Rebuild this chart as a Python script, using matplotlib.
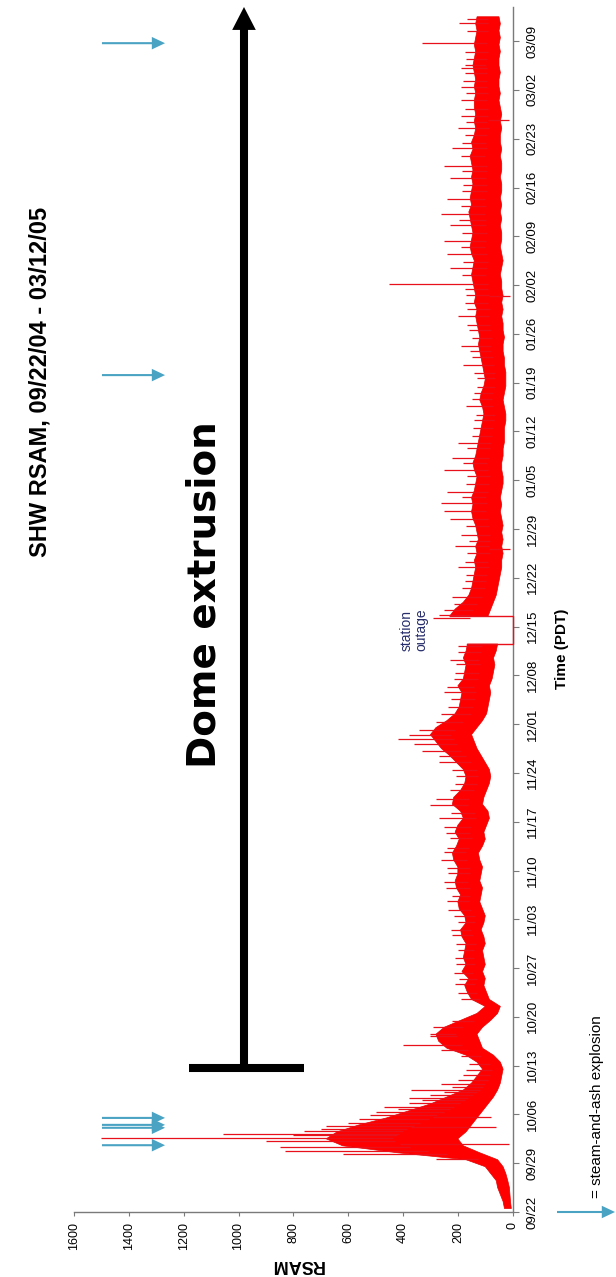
import numpy as np
import pandas as pd
import matplotlib
matplotlib.use('Agg')
import matplotlib.pyplot as plt
import matplotlib.dates as mdates
from matplotlib.patches import FancyArrowPatch

plt.rcParams['font.family'] = ['Liberation Sans', 'DejaVu Sans']

W, H = 616, 1277

start = pd.Timestamp('2004-09-22')

# daily RSAM envelope (low / high), one row per week from 09/22/04
rsam_low = [
    5, 8, 10, 12, 18, 25, 35,
    55, 120, 180, 200, 170, 150, 130,
    110, 90, 70, 55, 45, 40, 35,
    45, 70, 110, 120, 130, 110, 80,
    55, 45, 85, 95, 105, 100, 110,
    100, 105, 110, 100, 105, 115, 105,
    100, 110, 120, 115, 110, 120, 115,
    110, 120, 125, 110, 100, 105, 95,
    85, 90, 110, 105, 95, 85, 80,
    85, 100, 115, 130, 140, 150, 130,
    110, 95, 90, 85, 80, 85, 75,
    70, 65, 70, 60, 55, np.nan, np.nan,
    np.nan, 90, 80, 70, 60, 55, 50,
    45, 40, 40, 35, 40, 35, 40,
    35, 40, 45, 40, 45, 40, 35,
    35, 40, 40, 35, 35, 30, 30,
    30, 25, 25, 30, 35, 30, 25,
    25, 25, 30, 30, 35, 35, 30,
    35, 35, 40, 35, 40, 35, 40,
    40, 45, 40, 35, 40, 45, 40,
    40, 45, 40, 45, 40, 45, 40,
    40, 45, 40, 40, 45, 40, 45,
    45, 40, 45, 40, 45, 50, 45,
    50, 50, 45, 50, 50, 45, 50,
    45, 50, 45, 50,
]
rsam_high = [
    30, 35, 45, 55, 60, 80, 100,
    170, 420, 620, 680, 640, 560, 460,
    380, 300, 240, 180, 150, 130, 110,
    130, 170, 240, 270, 280, 250, 190,
    130, 100, 150, 165, 175, 160, 185,
    170, 180, 175, 170, 185, 190, 170,
    175, 195, 200, 190, 205, 210, 200,
    200, 215, 220, 205, 195, 210, 200,
    180, 190, 220, 215, 190, 175, 170,
    180, 205, 230, 260, 280, 300, 280,
    240, 210, 195, 190, 185, 200, 180,
    175, 170, 180, 170, 165, np.nan, np.nan,
    np.nan, 230, 210, 180, 160, 150, 145,
    140, 135, 140, 130, 135, 125, 130,
    135, 145, 150, 145, 150, 140, 135,
    130, 140, 145, 135, 130, 125, 120,
    115, 110, 105, 110, 120, 115, 105,
    100, 105, 110, 115, 120, 125, 120,
    125, 130, 135, 130, 140, 135, 140,
    145, 150, 145, 140, 150, 155, 150,
    145, 150, 155, 160, 150, 155, 150,
    145, 150, 145, 150, 155, 145, 150,
    140, 135, 140, 135, 140, 140, 135,
    140, 135, 140, 145, 140, 135, 140,
    135, 130, 135, 130,
]

# short bursts: (days after 09/22/04, RSAM)
spikes = [
    (7.6, 280), (8.3, 620), (8.8, 830), (9.3, 850), (9.75, 15), (10.2, 900),
    (10.6, 1500), (11.0, 800), (11.2, 1055), (11.6, 760), (11.9, 700),
    (12.2, 60), (12.4, 680), (12.8, 600), (13.3, 560), (13.6, 80),
    (13.9, 520), (14.4, 500), (14.8, 420), (15.1, 470), (15.6, 380),
    (16.0, 330), (16.3, 380), (16.8, 300), (17.2, 250), (17.5, 370),
    (18.0, 220), (18.4, 260), (19.0, 200), (19.6, 180), (20.4, 170),
    (21.2, 160), (24.0, 400), (25.5, 300), (26.5, 290),
    (22.4, 190), (23.3, 260), (25.2, 300), (27.4, 220), (30.6, 190),
    (31.4, 200), (32.7, 210), (33.5, 195), (34.3, 215), (35.6, 205),
    (36.4, 210), (37.6, 200), (38.5, 205), (39.7, 220), (40.4, 225),
    (41.6, 200), (42.5, 215), (43.4, 235), (44.6, 240), (45.3, 220),
    (46.5, 245), (47.4, 250), (48.6, 235), (49.4, 240), (50.5, 260),
    (51.6, 250), (52.3, 240), (53.7, 230), (54.4, 245), (55.2, 250),
    (56.6, 270), (57.3, 225), (58.4, 300), (59.3, 280), (60.5, 230),
    (61.4, 210), (62.6, 205), (63.4, 220), (64.5, 270), (65.4, 270),
    (66.2, 330), (67.1, 360), (67.8, 420), (68.5, 380), (69.2, 340),
    (70.3, 280), (71.5, 260), (72.4, 235), (73.6, 225), (74.6, 250),
    (75.3, 240), (76.5, 215), (77.4, 210), (78.6, 205), (79.2, 230),
    (80.4, 200), (81.2, 200),
    (85.2, 290), (85.7, 270), (86.4, 250), (87.3, 215), (88.3, 220),
    (89.5, 185), (90.6, 175), (91.4, 170), (92.5, 200), (93.3, 175),
    (94.6, 165), (95.2, 10), (95.6, 210), (96.3, 160), (97.2, 190),
    (98.5, 170), (99.4, 230), (100.6, 250), (101.8, 260), (102.6, 185),
    (103.3, 240), (104.4, 170), (105.6, 165), (106.5, 250), (107.4, 180),
    (108.2, 220), (109.6, 165), (110.4, 200), (111.3, 150), (112.5, 145),
    (113.6, 140), (114.4, 135), (115.6, 170), (116.7, 150), (117.5, 140),
    (118.4, 130), (119.6, 130), (120.4, 140), (121.5, 180), (122.7, 150),
    (123.5, 155), (124.3, 190), (125.4, 150), (126.6, 160), (127.3, 165),
    (128.6, 200), (129.5, 165), (130.4, 175), (131.5, 10), (131.6, 170),
    (132.4, 175), (133.1, 450), (134.5, 185), (135.4, 230), (136.3, 180),
    (137.5, 240), (138.4, 190), (139.3, 250), (140.5, 185), (141.6, 230),
    (142.4, 195), (143.2, 260), (144.3, 190), (145.4, 240), (146.5, 185),
    (147.4, 180), (148.3, 230), (149.3, 185), (150.1, 250), (151.5, 190),
    (152.6, 220), (153.4, 185), (154.6, 175), (155.5, 200), (156.4, 170),
    (156.7, 15), (157.2, 190), (158.3, 175), (159.6, 190), (160.5, 170),
    (161.4, 190), (162.3, 180), (163.4, 175), (164.1, 190), (164.6, 175),
    (165.5, 170), (166.4, 175), (167.7, 330), (169.4, 165), (170.6, 195),
    (171.2, 165),
]

explosions = ['2004-10-01 14:00', '2004-10-04 02:00', '2004-10-04 12:00',
              '2004-10-05 12:00', '2005-01-20 02:00', '2005-03-08 17:00']
dome_start = '2004-10-12 16:00'
tick_dates = pd.date_range('2004-09-22', '2005-03-09', freq='7D')
rsam_ticks = [0, 200, 400, 600, 800, 1000, 1200, 1400, 1600]

red = '#ff0000'
blue = '#4aa3c3'
grey = '#7a7a7a'


def fig_xy(x, y):
    return x / W, 1 - y / H


fig = plt.figure(figsize=(W / 100, H / 100), dpi=100)
ax = fig.add_axes([74 / W, 1 - 1212 / H, (512.7 - 74) / W, (1212 - 7) / H])

t0 = mdates.date2num(start)
days = t0 + np.arange(len(rsam_low)) + 0.5
lo = np.array(rsam_low, dtype=float)
hi = np.array(rsam_high, dtype=float)

ax.fill_betweenx(days, lo, hi, color=red, lw=0.5, edgecolor='#e60000', zorder=2)

# spikes drawn out from the middle of the band
ok = ~np.isnan(lo)
mid = (lo + hi) / 2
spike_t = t0 + np.array([s[0] for s in spikes])
spike_v = [s[1] for s in spikes]
base = np.interp(spike_t, days[ok], mid[ok])
ax.hlines(spike_t, base, spike_v, color='#e8101a', lw=0.9, zorder=2)

# station outage: signal drops to zero while the station is off
gap = np.where(~ok)[0]
i0, i1 = gap[0] - 1, gap[-1] + 1
ax.plot([hi[i0], 0, 0, hi[i1]], [days[i0], days[i0], days[i1], days[i1]],
        color='#e8101a', lw=1.0, zorder=3, clip_on=False)
ax.text(360, (days[i0] + days[i1]) / 2, 'station\noutage', rotation=90,
        ha='center', va='center', fontsize=10, color='#262d6b',
        multialignment='center', linespacing=1.0)

ax.set_xlim(1600, 0)
ax.set_ylim(t0, t0 + 172.9)

ax.set_xticks(rsam_ticks)
ax.set_xticklabels([str(v) for v in rsam_ticks], rotation=90, fontsize=9)
ax.yaxis.tick_right()
ax.set_yticks(mdates.date2num(tick_dates))
ax.set_yticklabels(tick_dates.strftime('%m/%d'), rotation=90, va='center',
                   fontsize=9.5)
ax.tick_params(axis='x', length=3, pad=4, color=grey)
ax.tick_params(axis='y', length=4, pad=6, color=grey)
for side in ['top', 'left']:
    ax.spines[side].set_visible(False)
for side in ['bottom', 'right']:
    ax.spines[side].set_color(grey)
    ax.spines[side].set_linewidth(1.0)

# dome extrusion bar and arrow
td = mdates.date2num(pd.Timestamp(dome_start))
ax.plot([760, 1180], [td, td], color='black', lw=5.8, solid_capstyle='butt',
        zorder=4)
ax.annotate('', xy=(980, t0 + 172.9), xytext=(980, td),
            arrowprops=dict(width=5.8, headwidth=17, headlength=16.5,
                            fc='black', ec='none', lw=0, shrink=0),
            annotation_clip=False, zorder=4)

# steam-and-ash explosions
for d in explosions:
    te = mdates.date2num(pd.Timestamp(d))
    ax.annotate('', xy=(1268, te), xytext=(1498, te),
                arrowprops=dict(width=1.5, headwidth=9, headlength=9.5,
                                fc=blue, ec='none', lw=0, shrink=0),
                annotation_clip=False)

# legend arrow
fig.patches.append(FancyArrowPatch(
    fig_xy(557, 1212), fig_xy(615, 1212), transform=fig.transFigure,
    arrowstyle='simple,head_length=0.95,head_width=0.9,tail_width=0.15',
    mutation_scale=10, fc=blue, ec='none', lw=0, shrinkA=0, shrinkB=0))
fig.text(*fig_xy(597, 1198), '= steam-and-ash explosion', rotation=90,
         ha='center', va='bottom', fontsize=11)

fig.text(*fig_xy(40, 382), 'SHW RSAM, 09/22/04 - 03/12/05', rotation=90,
         ha='center', va='center', fontsize=17, weight='bold')
fig.text(*fig_xy(205, 595), 'Dome extrusion', rotation=90, ha='center',
         va='center', fontsize=28, weight='bold', family='DejaVu Sans')
fig.text(*fig_xy(562, 649), 'Time (PDT)', rotation=90, ha='center',
         va='center', fontsize=11, weight='bold')
fig.text(*fig_xy(297, 1265), 'RSAM', rotation=180, ha='center',
         va='center', fontsize=13, weight='bold')

fig.savefig('out.png', dpi=100)
